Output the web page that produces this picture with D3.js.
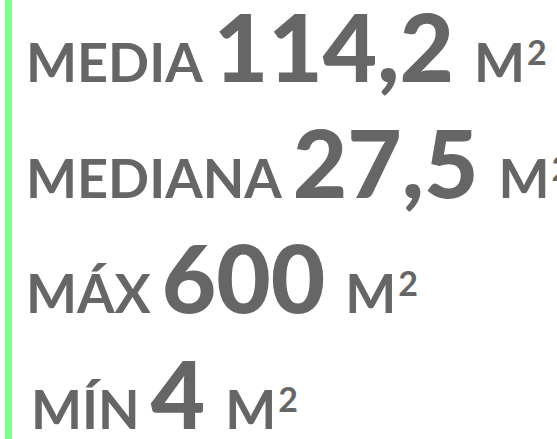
<!DOCTYPE html>
<html><head><meta charset="utf-8">
<script src="https://cdn.jsdelivr.net/npm/d3@7"></script>
<style>html,body{margin:0;padding:0;background:#fff;overflow:hidden}</style>
</head><body>
<svg id="c" width="557" height="439"></svg>
<script>
const labels = ["MEDIA", "MEDIANA", "MÁX", "MÍN"];
const values = [114.2, 27.5, 600, 4];
const unitBase = "M";
const unitExp = "2";

const W = 557, H = 439;
const svg = d3.select("#c");
const es = d3.formatLocale({decimal: ",", thousands: ".", grouping: [3], currency: ["", " €"]});
const fmt = v => Number.isInteger(v) ? es.format("d")(v) : es.format(".1f")(v);

svg.append("rect").attr("x", 5).attr("y", 0).attr("width", 7).attr("height", H).attr("fill", "#80ff8c");

const y = d3.scaleLinear().domain([0, labels.length - 1]).range([82, 429]);
const indent = [26, 26, 26, 31];
const color = "#666666";
const font = "Lato, 'Open Sans', sans-serif";

labels.forEach((lab, i) => {
  const g = svg.append("g");
  const t1 = g.append("text").attr("x", indent[i]).attr("y", y(i))
    .attr("font-family", font).attr("font-weight", 700).attr("font-size", 54)
    .attr("fill", color).text(lab);
  const w1 = t1.node().getComputedTextLength();
  const x2 = indent[i] + w1 + 11;
  const t2 = g.append("text").attr("x", x2).attr("y", y(i))
    .attr("font-family", font).attr("font-weight", 900).attr("font-size", 94)
    .attr("fill", color).text(fmt(values[i]));
  const w2 = t2.node().getComputedTextLength();
  const t3 = g.append("text").attr("x", x2 + w2 + 20).attr("y", y(i))
    .attr("font-family", font).attr("font-weight", 700).attr("font-size", 54)
    .attr("fill", color);
  t3.append("tspan").text(unitBase);
  t3.append("tspan").attr("font-size", 34).attr("dy", -17).attr("dx", 2).text(unitExp);
});
</script>
</body></html>
